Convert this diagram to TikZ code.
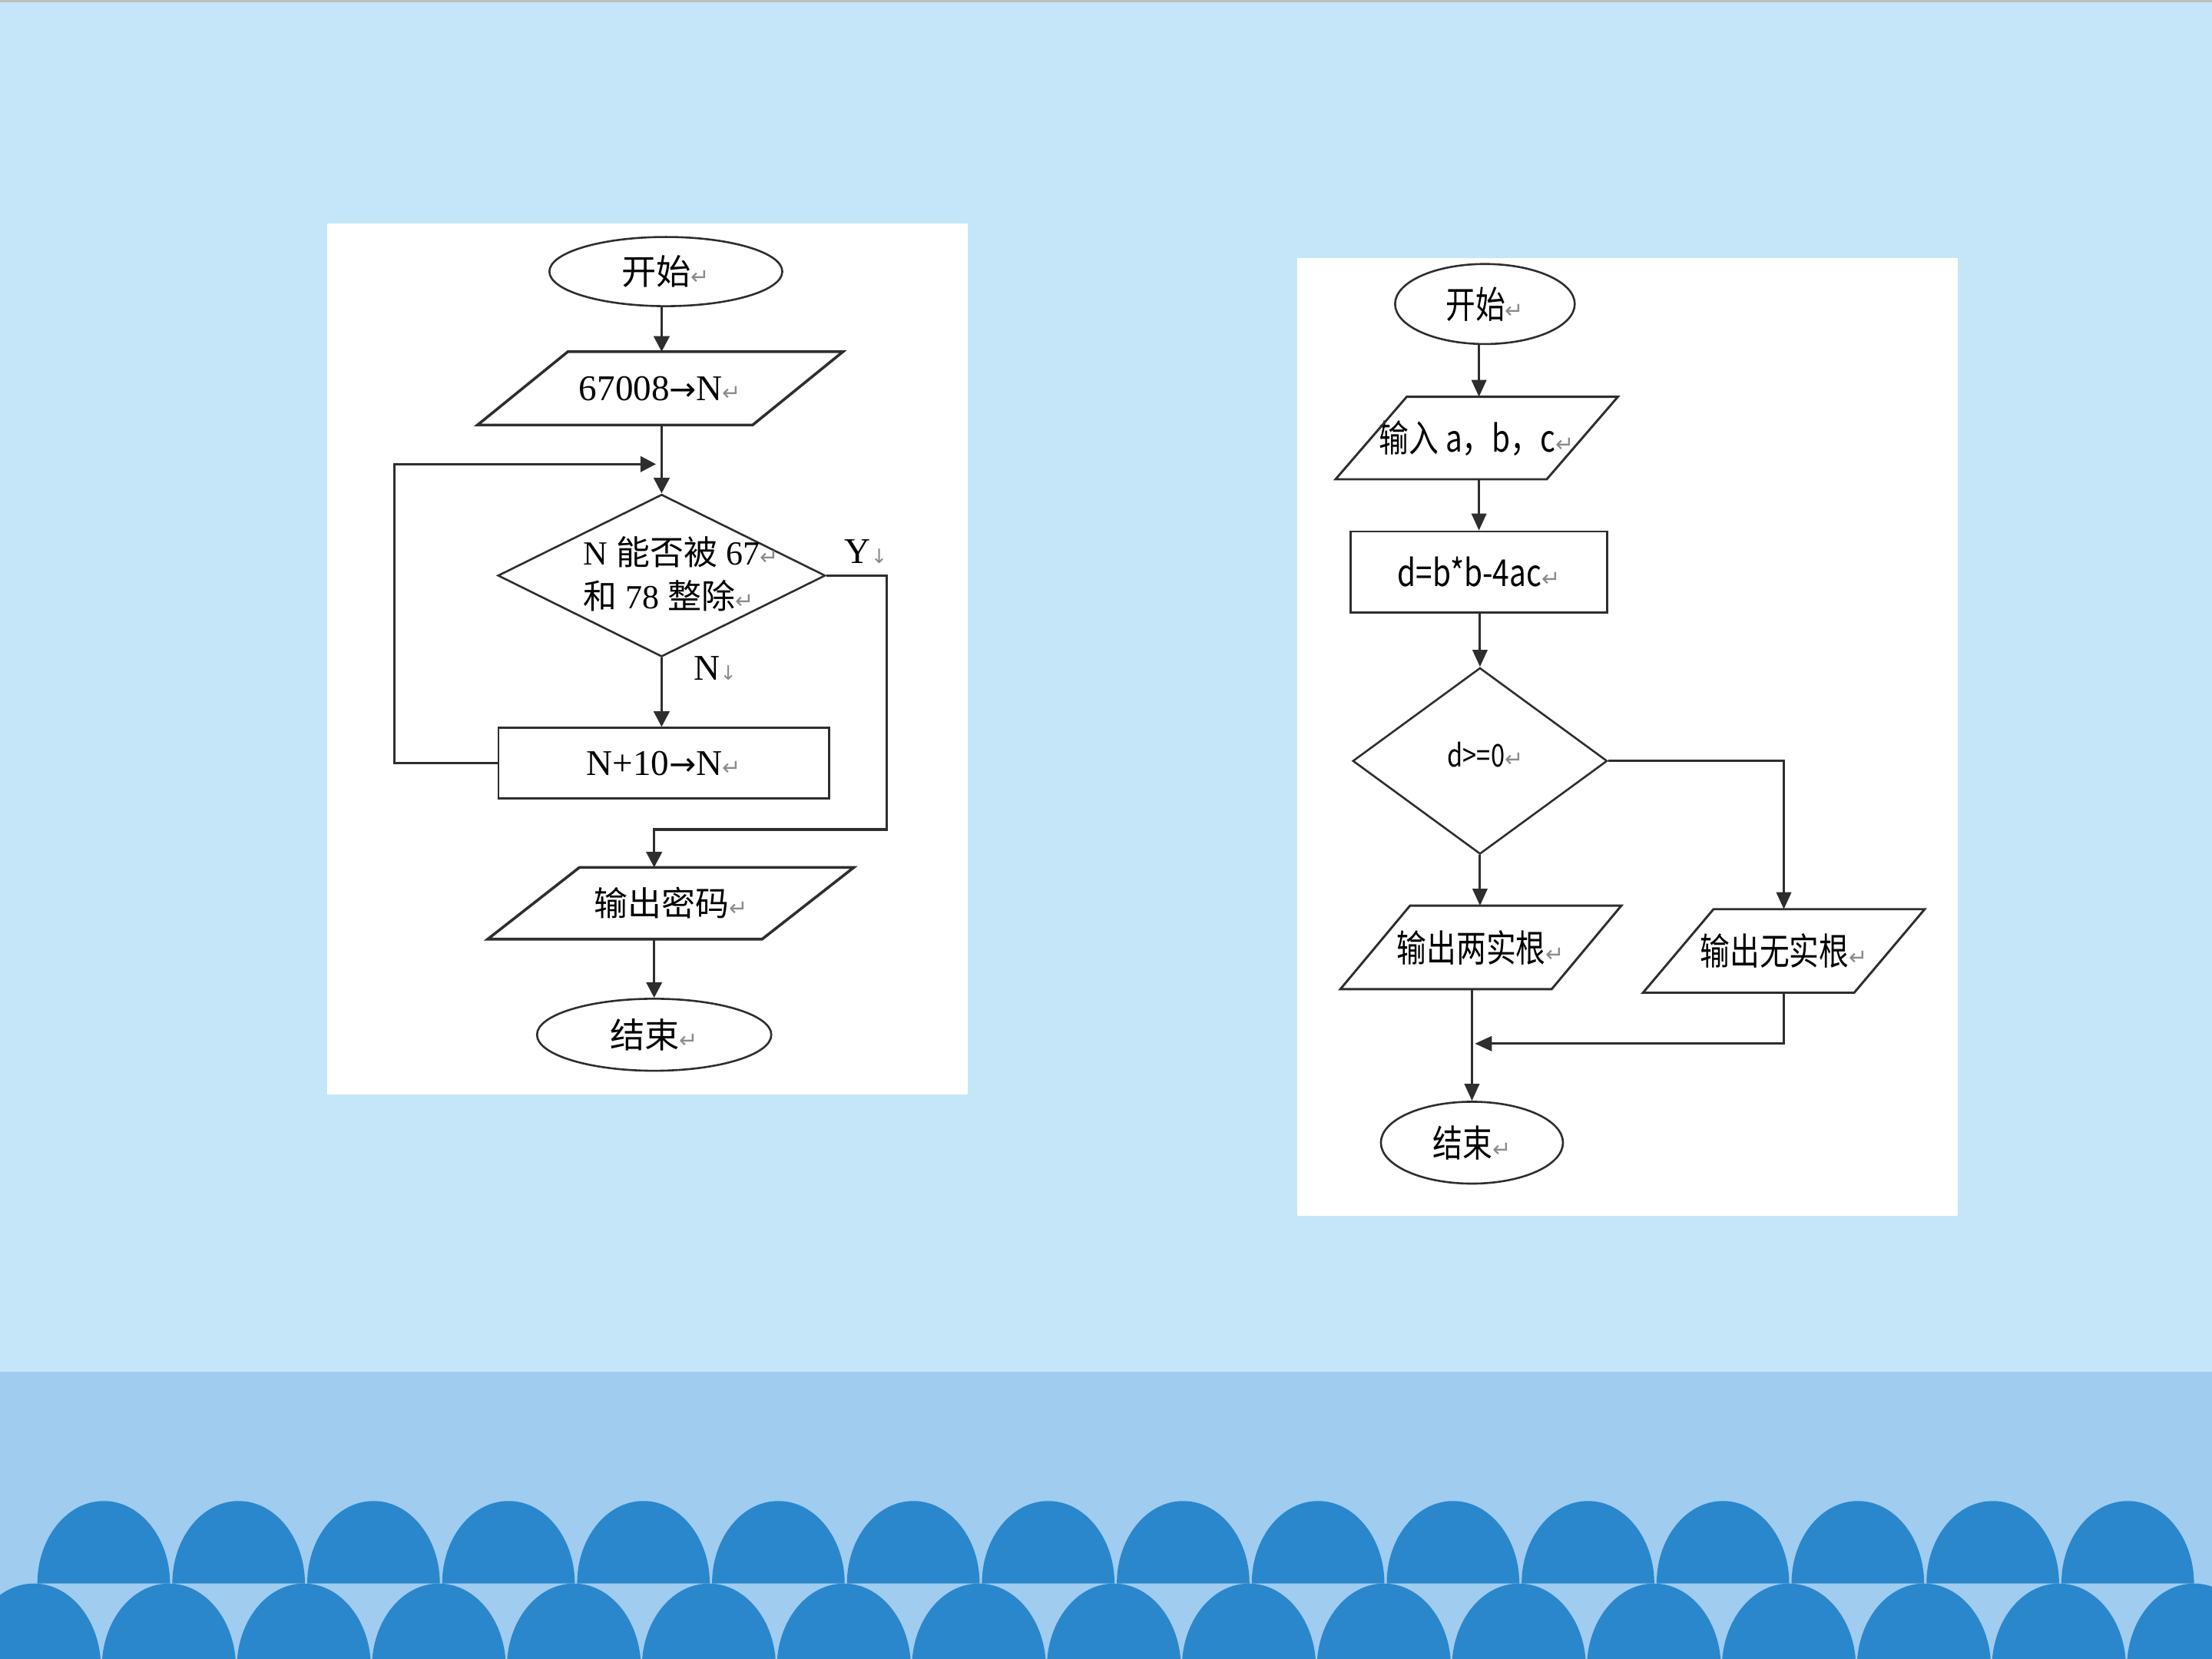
\documentclass[tikz,border=0pt]{standalone}
\usepackage{fontspec}
\setmainfont{Liberation Serif}
\newfontfamily\cjk{Noto Sans CJK SC}
\newfontfamily\cjkn[FakeStretch=0.8]{Noto Sans CJK SC}
\newfontfamily\symf{DejaVu Sans}
\usetikzlibrary{shapes.geometric,arrows.meta,calc}
\definecolor{bgtop}{HTML}{C5E6F8}
\definecolor{bgbot}{HTML}{A0CCF0}
\definecolor{archc}{HTML}{2A87CC}
\definecolor{ln}{HTML}{2E2E2E}
\newcommand{\ret}{{\symf\fontsize{4.5pt}{5pt}\selectfont\textcolor{black!45}{↵}}}
\newcommand{\lbrk}{{\symf\fontsize{4pt}{5pt}\selectfont\textcolor{black!45}{↓}}}
\newcommand{\rar}{{\symf\fontsize{6.5pt}{8pt}\selectfont →}}
\tikzset{
  lnL/.style={draw=ln, line width=0.55pt},
  arrL/.style={lnL, -{Triangle[length=0.11cm,width=0.11cm]}},
  lnR/.style={draw=ln, line width=0.45pt},
  arrR/.style={lnR, -{Triangle[length=0.12cm,width=0.105cm]}},
  term/.style={ellipse, draw=ln, fill=white, inner sep=0pt},
  procbox/.style={rectangle, draw=ln, fill=white, inner sep=0pt},
  iobox/.style={rectangle, inner sep=0pt},
  dec/.style={diamond, draw=ln, inner sep=0pt},
  fL/.style={font=\fontsize{7.3pt}{9pt}\selectfont},
  fR/.style={font=\fontsize{7.5pt}{9pt}\selectfont},
  panel/.style={fill=white, draw=none},
}
\newcommand{\paraout}[3]{%
  \draw[#3] ($(#1.north west)+(#2,0)$) -- ($(#1.north east)+(#2,0)$) --
            ($(#1.south east)+(-#2,0)$) -- ($(#1.south west)+(-#2,0)$) -- cycle;}
\begin{document}
\begin{tikzpicture}[x=0.01cm, y=-0.01cm]
\useasboundingbox (0,0) rectangle (1568,1176);
% background
\fill[bgtop] (0,0) rectangle (1568,972.4);
\fill[black!25] (0,0) rectangle (1568,1.6);
\fill[bgbot] (0,972.4) rectangle (1568,1176);
\begin{scope}
\clip (0,0) rectangle (1568,1176);
\foreach \k in {0,...,16}{
  \fill[archc] ({24+95.7*\k-47.5},1182) arc[start angle=180, end angle=360, x radius=47.5, y radius=59.5] -- cycle;
}
\foreach \k in {0,...,15}{
  \fill[archc] ({73.5+95.65*\k-47},1122.5) arc[start angle=180, end angle=360, x radius=47, y radius=58.5] -- cycle;
}
\end{scope}
% panels
\fill[panel] (231.7,158.2) rectangle (686,776);
\fill[panel] (919.3,182.9) rectangle (1387.7,861.6);

% ---------- left flowchart ----------
\node[term, minimum width=1.65cm, minimum height=0.49cm] (s1) at (472,192.5)
  {{\cjk\fontsize{7pt}{8pt}\selectfont 开始}\ret};
\node[iobox, fL, minimum width=1.935cm, minimum height=0.505cm] (p1) at (468,275.3)
  {67008\rar N\ret};
\paraout{p1}{32}{lnL}
\node[dec, minimum width=2.32cm, minimum height=1.15cm] (d1) at (469,408) {};
\node[anchor=west, align=left, inner sep=0pt, font=\fontsize{6.8pt}{8.8pt}\selectfont] (d1t) at (413,407)
  {N {\cjk 能否被} 67\ret\\{\cjk 和} 78 {\cjk 整除}\ret};
\node[fL, inner sep=0pt] (ylab) at (614,391) {Y\lbrk};
\node[fL, inner sep=0pt] (nlab) at (507,474) {N\lbrk};
\node[procbox, fL, minimum width=2.343cm, minimum height=0.50cm] (r1) at (470.6,541)
  {N+10\rar N\ret};
\node[iobox, minimum width=1.93cm, minimum height=0.494cm] (p2) at (475.5,640.3)
  {{\cjk\fontsize{6.8pt}{8pt}\selectfont 输出密码}\ret};
\paraout{p2}{32.5}{lnL}
\node[term, minimum width=1.66cm, minimum height=0.51cm] (e1) at (463.7,733.5)
  {{\cjk\fontsize{7pt}{8pt}\selectfont 结束}\ret};
\coordinate (loopin) at (465,329);
\coordinate (yturn) at (628.5,588);

\draw[arrL] (s1.south -| d1.north) -- (d1.north |- p1.north);
\draw[arrL] (d1.north |- p1.south) -- (d1.north);
\draw[arrL] (d1.south) -- (d1.south |- r1.north);
\draw[arrL] (r1.west) -- ++(-73.2,0) |- (loopin);
\draw[arrL] (d1.east) -| (yturn) -| (p2.north -| e1.north);
\draw[arrL] (e1.north |- p2.south) -- (e1.north);

% ---------- right flowchart ----------
\node[term, fR, minimum width=1.273cm, minimum height=0.567cm] (s2) at (1052.6,215.5)
  {{\cjkn 开始}\ret};
\node[iobox, fR, minimum width=1.482cm, minimum height=0.57cm] (p3) at (1046.8,310.5)
  {{\cjkn 输入 a，b，c}\ret};
\paraout{p3}{25.2}{lnR}
\node[procbox, fR, minimum width=1.818cm, minimum height=0.575cm] (r2) at (1048.4,405.5)
  {{\cjkn d=b*b-4ac}\ret};
\node[dec, minimum width=1.803cm, minimum height=1.32cm, line width=0.4pt] (d2) at (1049.1,539.4) {};
\node[inner sep=0pt, font=\fontsize{6.3pt}{8pt}\selectfont] (d2t) at (1053,535) {{\cjkn d>=0}\ret};
\node[iobox, fR, minimum width=1.483cm, minimum height=0.578cm] (p4) at (1049.7,671.6)
  {{\cjkn 输出两实根}\ret};
\paraout{p4}{24.7}{lnR}
\node[iobox, fR, minimum width=1.482cm, minimum height=0.578cm] (p5) at (1264.5,674.1)
  {{\cjkn 输出无实根}\ret};
\paraout{p5}{25}{lnR}
\node[term, fR, minimum width=1.29cm, minimum height=0.58cm] (e2) at (1043.4,810)
  {{\cjkn 结束}\ret};
\coordinate (join) at (1045.5,739.8);

\draw[arrR] (s2.south -| r2.north) -- (r2.north |- p3.north);
\draw[arrR] (r2.north |- p3.south) -- (r2.north);
\draw[arrR] (r2.south -| d2.north) -- (d2.north);
\draw[arrR] (d2.south) -- (d2.south |- p4.north);
\draw[arrR] (d2.east) -| (p5.north);
\draw[arrR] (e2.north |- p4.south) -- (e2.north);
\draw[arrR] (p5.south) |- (join);
\end{tikzpicture}
\end{document}
